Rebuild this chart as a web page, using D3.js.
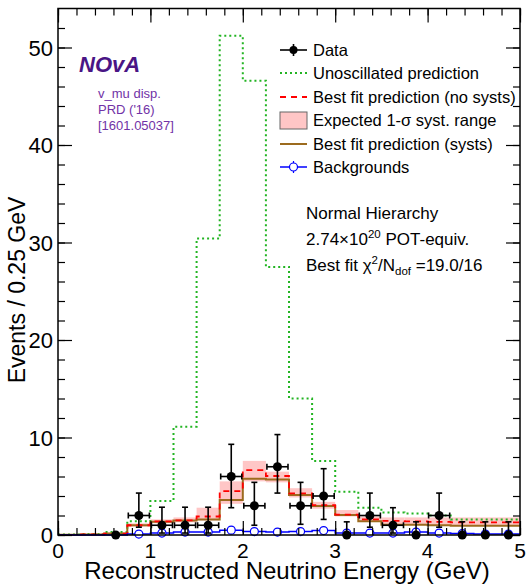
<!DOCTYPE html>
<meta charset="utf-8">
<style>
    body { margin: 0; background: white; }
    svg { font-family: "Liberation Sans", Arial, Helvetica, sans-serif; }
</style>
<body>
<script src="https://cdn.jsdelivr.net/npm/d3@7"></script>
<script>
    // bins of 0.25 GeV, lower edges and centres
    const binEdges = [0, 0.25, 0.5, 0.75, 1, 1.25, 1.5, 1.75, 2, 2.25, 2.5, 2.75, 3, 3.25, 3.5, 3.75, 4, 4.25, 4.5, 4.75, 5];
    const binCentres = [0.125, 0.375, 0.625, 0.875, 1.125, 1.375, 1.625, 1.875, 2.125, 2.375, 2.625, 2.875, 3.125, 3.375, 3.625, 3.875, 4.125, 4.375, 4.625, 4.875];

    // data (null = not drawn), with error bar ends
    const dataCounts = [null, null, 0, 2, 1, 1, 1, 6, 3, 7, 3, 4, 0, 2, 1, 0, 2, 0, 0, 0];
    const dataHi = [null, null, 0, 4.3, 2.85, 2.85, 2.85, 9.3, 5.4, 10.3, 5.4, 6.8, 1.35, 4.3, 2.8, 1.35, 4.3, 1.35, 1.35, 1.35];
    const dataLo = [null, null, 0, 0.8, 0.2, 0.2, 0.2, 2.8, 1.0, 4.3, 1.1, 1.6, 0, 0.8, 0.2, 0, 0.8, 0, 0, 0];

    const unoscillated = [0.05, 0.1, 0.3, 1.4, 3.5, 11.1, 30.4, 51.2, 46.6, 27.5, 14.0, 7.6, 4.44, 2.8, 2.3, 2.2, 2.0, 1.6, 1.6, 1.6];
    const bestFitNoSyst = [0.02, 0.05, 0.15, 1.0, 1.4, 1.5, 1.9, 4.5, 6.66, 6.05, 4.27, 3.07, 2.1, 1.6, 1.45, 1.4, 1.35, 1.3, 1.3, 1.3];
    const bestFitSyst = [0.02, 0.05, 0.15, 1.0, 1.35, 1.5, 1.6, 3.6, 5.77, 5.7, 4.1, 2.97, 2.05, 1.4, 1.05, 1.05, 1.0, 0.95, 0.95, 0.95];
    const systLo = [0, 0, 0.05, 0.85, 1.2, 1.3, 1.5, 3.2, 5.5, 5.4, 3.85, 2.7, 1.9, 1.37, 1.0, 1.0, 1.0, 1.0, 1.0, 1.0];
    const systHi = [0.05, 0.1, 0.25, 1.2, 1.6, 1.8, 2.8, 5.5, 7.6, 6.5, 4.8, 3.4, 2.56, 1.9, 1.8, 1.8, 1.8, 1.8, 1.8, 1.8];
    const backgrounds = [0, 0, 0, 0.1, 0.2, 0.3, 0.3, 0.5, 0.35, 0.3, 0.35, 0.45, 0.2, 0.2, 0.2, 0.3, 0.2, 0.15, 0.1, 0.1];

    const xTicks = [0, 1, 2, 3, 4, 5];
    const yTicks = [0, 10, 20, 30, 40, 50];

    const legendLabels = ["Data", "Unoscillated prediction", "Best fit prediction (no systs)",
        "Expected 1-\u03c3 syst. range", "Best fit prediction (systs)", "Backgrounds"];

    const width = 526, height = 586;
    const frame = {left: 58, right: 520, top: 8.5, bottom: 535};

    const x = d3.scaleLinear().domain([0, 5]).range([frame.left, frame.right]);
    const y = d3.scaleLinear().domain([0, 54]).range([frame.bottom, frame.top]);

    const svg = d3.select("body").append("svg")
        .attr("width", width)
        .attr("height", height);

    const plot = svg.append("g");

    // syst band
    plot.append("g").selectAll("rect")
        .data(binCentres)
        .enter().append("rect")
        .attr("x", (d, i) => x(binEdges[i]))
        .attr("width", (d, i) => x(binEdges[i + 1]) - x(binEdges[i]))
        .attr("y", (d, i) => y(systHi[i]))
        .attr("height", (d, i) => y(systLo[i]) - y(systHi[i]))
        .style("fill", "#ffc6c6");

    function stepPoints(vals) {
        const pts = vals.map((v, i) => [binEdges[i], v]);
        pts.push([binEdges[vals.length], vals[vals.length - 1]]);
        return pts;
    }
    const step = d3.line()
        .x(d => x(d[0]))
        .y(d => y(d[1]))
        .curve(d3.curveStepAfter);

    plot.append("path")
        .attr("d", step(stepPoints(unoscillated)))
        .style("fill", "none")
        .style("stroke", "#22b422")
        .style("stroke-width", 2)
        .style("stroke-dasharray", "2,3");

    plot.append("path")
        .attr("d", step(stepPoints(bestFitSyst)))
        .style("fill", "none")
        .style("stroke", "#9c6b1e")
        .style("stroke-width", 2);

    plot.append("path")
        .attr("d", step(stepPoints(bestFitNoSyst)))
        .style("fill", "none")
        .style("stroke", "#ff0000")
        .style("stroke-width", 1.8)
        .style("stroke-dasharray", "6,5");

    // backgrounds
    plot.append("path")
        .attr("d", step(stepPoints(backgrounds)))
        .style("fill", "none")
        .style("stroke", "#0000ff")
        .style("stroke-width", 1.5);

    const bkgPts = binCentres.map((c, i) => ({c: c, v: backgrounds[i]})).filter(d => d.c > 0.75);
    plot.append("g").selectAll("line")
        .data(bkgPts)
        .enter().append("line")
        .attr("x1", d => x(d.c)).attr("x2", d => x(d.c))
        .attr("y1", d => y(d.v) - 4).attr("y2", d => y(d.v) + 4)
        .style("stroke", "#0000ff")
        .style("stroke-width", 1);
    plot.append("g").selectAll("circle")
        .data(bkgPts)
        .enter().append("circle")
        .attr("cx", d => x(d.c))
        .attr("cy", d => y(d.v))
        .attr("r", 4)
        .style("fill", "white")
        .style("stroke", "#0000ff")
        .style("stroke-width", 1.2);

    // data points
    const pts = binCentres.map((c, i) => ({c: c, i: i, n: dataCounts[i], hi: dataHi[i], lo: dataLo[i]}))
        .filter(d => d.n !== null);
    const dataG = plot.append("g").style("stroke", "black").style("stroke-width", 1.6);
    pts.filter(d => d.n > 0).forEach(d => {
        const x0 = x(binEdges[d.i]) + 1, x1 = x(binEdges[d.i + 1]) - 1;
        dataG.append("line").attr("x1", x0).attr("x2", x1).attr("y1", y(d.n)).attr("y2", y(d.n));
        dataG.append("line").attr("x1", x0).attr("x2", x0).attr("y1", y(d.n) - 3).attr("y2", y(d.n) + 3);
        dataG.append("line").attr("x1", x1).attr("x2", x1).attr("y1", y(d.n) - 3).attr("y2", y(d.n) + 3);
    });
    pts.filter(d => d.hi > d.lo).forEach(d => {
        const xc = x(d.c);
        dataG.append("line").attr("x1", xc).attr("x2", xc).attr("y1", y(d.hi)).attr("y2", y(d.lo));
        dataG.append("line").attr("x1", xc - 3).attr("x2", xc + 3).attr("y1", y(d.hi)).attr("y2", y(d.hi));
        if (d.lo > 0) dataG.append("line").attr("x1", xc - 3).attr("x2", xc + 3).attr("y1", y(d.lo)).attr("y2", y(d.lo));
    });
    plot.append("g").selectAll("circle")
        .data(pts)
        .enter().append("circle")
        .attr("cx", d => x(d.c))
        .attr("cy", d => y(d.n))
        .attr("r", 4.5)
        .style("fill", "black");

    // frame + ticks on all four sides, pointing inward
    svg.append("rect")
        .attr("x", frame.left).attr("y", frame.top)
        .attr("width", frame.right - frame.left).attr("height", frame.bottom - frame.top)
        .style("fill", "none")
        .style("stroke", "black")
        .style("stroke-width", 1.5);

    const xMinor = d3.range(0, 5.001, 0.2);
    const yMinor = d3.range(0, 54, 2);

    function tickAxis(axis, g) {
        g.call(axis);
        g.select(".domain").remove();
        g.selectAll("line").style("stroke", "black").style("stroke-width", 1.2);
    }
    tickAxis(d3.axisBottom(x).tickValues(xMinor).tickSize(-7).tickFormat(""), svg.append("g").attr("transform", `translate(0,${frame.bottom})`));
    tickAxis(d3.axisBottom(x).tickValues(xTicks).tickSize(-14).tickFormat(""), svg.append("g").attr("transform", `translate(0,${frame.bottom})`));
    tickAxis(d3.axisTop(x).tickValues(xMinor).tickSize(-7).tickFormat(""), svg.append("g").attr("transform", `translate(0,${frame.top})`));
    tickAxis(d3.axisTop(x).tickValues(xTicks).tickSize(-14).tickFormat(""), svg.append("g").attr("transform", `translate(0,${frame.top})`));
    tickAxis(d3.axisLeft(y).tickValues(yMinor).tickSize(-7).tickFormat(""), svg.append("g").attr("transform", `translate(${frame.left},0)`));
    tickAxis(d3.axisLeft(y).tickValues(yTicks).tickSize(-14).tickFormat(""), svg.append("g").attr("transform", `translate(${frame.left},0)`));
    tickAxis(d3.axisRight(y).tickValues(yMinor).tickSize(-7).tickFormat(""), svg.append("g").attr("transform", `translate(${frame.right},0)`));
    tickAxis(d3.axisRight(y).tickValues(yTicks).tickSize(-14).tickFormat(""), svg.append("g").attr("transform", `translate(${frame.right},0)`));

    // tick labels
    svg.append("g").selectAll("text")
        .data(xTicks)
        .enter().append("text")
        .attr("x", d => x(d))
        .attr("y", 558)
        .style("text-anchor", "middle")
        .style("font-size", "21px")
        .text(d => d);
    svg.append("g").selectAll("text")
        .data(yTicks)
        .enter().append("text")
        .attr("x", frame.left - 5)
        .attr("y", d => y(d) + 8)
        .style("text-anchor", "end")
        .style("font-size", "22px")
        .text(d => d);

    // axis titles
    svg.append("text")
        .attr("x", 287)
        .attr("y", 579)
        .style("text-anchor", "middle")
        .style("font-size", "24px")
        .text("Reconstructed Neutrino Energy (GeV)");
    svg.append("text")
        .attr("transform", "translate(25,290) rotate(-90)")
        .style("text-anchor", "middle")
        .style("font-size", "23px")
        .text("Events / 0.25 GeV");

    // NOvA label
    svg.append("text")
        .attr("x", 79).attr("y", 72)
        .style("font-size", "22px")
        .style("font-weight", "bold")
        .style("font-style", "italic")
        .style("fill", "#4a1585")
        .text("NOvA");
    const subLines = ["v_mu disp.", "PRD ('16)", "[1601.05037]"];
    svg.append("g").selectAll("text")
        .data(subLines)
        .enter().append("text")
        .attr("x", 98)
        .attr("y", (d, i) => 98 + i * 16)
        .style("font-size", "13px")
        .style("fill", "#7132a6")
        .text(d => d);

    // legend
    const legY = [50, 73, 97, 120, 144, 167];
    const leg = svg.append("g");
    leg.selectAll("text")
        .data(legendLabels)
        .enter().append("text")
        .attr("x", 313)
        .attr("y", (d, i) => legY[i] + 6)
        .style("font-size", "16.5px")
        .text(d => d);
    const lx0 = 280, lx1 = 307, lxc = 293.5;
    leg.append("line").attr("x1", lx0).attr("x2", lx1).attr("y1", legY[0]).attr("y2", legY[0])
        .style("stroke", "black").style("stroke-width", 1.6);
    leg.append("line").attr("x1", lxc).attr("x2", lxc).attr("y1", legY[0] - 6).attr("y2", legY[0] + 6)
        .style("stroke", "black").style("stroke-width", 1.6);
    leg.append("circle").attr("cx", lxc).attr("cy", legY[0]).attr("r", 4).style("fill", "black");
    leg.append("line").attr("x1", lx0).attr("x2", lx1).attr("y1", legY[1]).attr("y2", legY[1])
        .style("stroke", "#22b422").style("stroke-width", 2).style("stroke-dasharray", "2,3");
    leg.append("line").attr("x1", lx0).attr("x2", lx1).attr("y1", legY[2]).attr("y2", legY[2])
        .style("stroke", "#ff0000").style("stroke-width", 1.8).style("stroke-dasharray", "6,5");
    leg.append("rect").attr("x", lx0).attr("y", legY[3] - 8).attr("width", lx1 - lx0).attr("height", 17)
        .style("fill", "#ffc6c6").style("stroke", "#666").style("stroke-width", 1);
    leg.append("line").attr("x1", lx0).attr("x2", lx1).attr("y1", legY[4]).attr("y2", legY[4])
        .style("stroke", "#9c6b1e").style("stroke-width", 2);
    leg.append("line").attr("x1", lx0).attr("x2", lx1).attr("y1", legY[5]).attr("y2", legY[5])
        .style("stroke", "#0000ff").style("stroke-width", 1.5);
    leg.append("line").attr("x1", lxc).attr("x2", lxc).attr("y1", legY[5] - 6).attr("y2", legY[5] + 6)
        .style("stroke", "#0000ff").style("stroke-width", 1.2);
    leg.append("circle").attr("cx", lxc).attr("cy", legY[5]).attr("r", 4)
        .style("fill", "white").style("stroke", "#0000ff").style("stroke-width", 1.2);

    // fit info
    const info = svg.append("g").style("font-size", "17px");
    info.append("text").attr("x", 306).attr("y", 219).text("Normal Hierarchy");
    const t2 = info.append("text").attr("x", 306).attr("y", 245);
    t2.append("tspan").text("2.74\u00d710");
    t2.append("tspan").attr("dy", -7).style("font-size", "11.5px").text("20");
    t2.append("tspan").attr("dy", 7).text(" POT-equiv.");
    const t3 = info.append("text").attr("x", 306).attr("y", 271);
    t3.append("tspan").text("Best fit \u03c7");
    t3.append("tspan").attr("dy", -7).style("font-size", "11.5px").text("2");
    t3.append("tspan").attr("dy", 7).text("/N");
    t3.append("tspan").attr("dy", 4).style("font-size", "11.5px").text("dof");
    t3.append("tspan").attr("dy", -4).text(" =19.0/16");
</script>
</body>
